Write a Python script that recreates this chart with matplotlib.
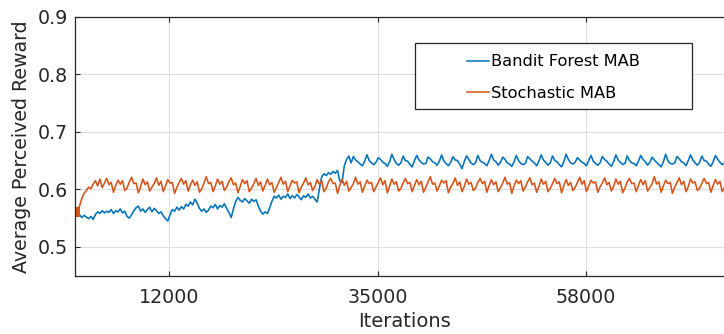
import numpy as np
import matplotlib
matplotlib.use("Agg")
import matplotlib.pyplot as plt
from matplotlib.lines import Line2D
from matplotlib.patches import Rectangle

# ---- data -------------------------------------------------------------
ITER_START = 1582        # first logged iteration
ITER_STEP = 250          # logging interval

stochastic_mab = [
    0.561, 0.562, 0.571, 0.584, 0.593, 0.598, 0.604, 0.601, 0.609, 0.615, 0.606, 0.618,
    0.603, 0.611, 0.619, 0.608, 0.612, 0.595,
    0.607, 0.616, 0.609, 0.615, 0.598,
    0.602, 0.613, 0.621, 0.610, 0.611, 0.594,
    0.605, 0.618, 0.608, 0.613, 0.597,
    0.604, 0.610, 0.620, 0.607, 0.614, 0.596,
    0.606, 0.617, 0.611, 0.612, 0.593,
    0.603, 0.612, 0.619, 0.609, 0.615, 0.597,
    0.608, 0.616, 0.607, 0.613, 0.595,
    0.601, 0.611, 0.622, 0.610, 0.612, 0.596,
    0.606, 0.618, 0.609, 0.614, 0.598,
    0.604, 0.613, 0.620, 0.608, 0.611, 0.594,
    0.605, 0.617, 0.610, 0.615, 0.596,
    0.602, 0.610, 0.619, 0.607, 0.613, 0.597,
    0.607, 0.618, 0.608, 0.612, 0.595,
    0.603, 0.612, 0.621, 0.609, 0.614, 0.596,
    0.606, 0.616, 0.611, 0.613, 0.594,
    0.604, 0.611, 0.620, 0.608, 0.612, 0.598,
    0.605, 0.617, 0.609, 0.615, 0.596,
    0.602, 0.613, 0.619, 0.610, 0.611, 0.593,
    0.607, 0.618, 0.607, 0.614, 0.597,
    0.603, 0.610, 0.621, 0.609, 0.613, 0.595,
    0.606, 0.616, 0.610, 0.612, 0.596,
    0.604, 0.612, 0.620, 0.608, 0.615, 0.594,
    0.605, 0.618, 0.609, 0.613, 0.597,
    0.602, 0.611, 0.619, 0.610, 0.612, 0.596,
    0.607, 0.617, 0.608, 0.614, 0.595,
    0.603, 0.613, 0.622, 0.609, 0.611, 0.597,
    0.606, 0.616, 0.611, 0.615, 0.594,
    0.604, 0.610, 0.620, 0.607, 0.613, 0.596,
    0.605, 0.618, 0.609, 0.612, 0.598,
    0.602, 0.612, 0.619, 0.610, 0.614, 0.595,
    0.607, 0.617, 0.608, 0.613, 0.596,
    0.603, 0.611, 0.621, 0.609, 0.612, 0.593,
    0.606, 0.616, 0.610, 0.615, 0.597,
    0.604, 0.613, 0.620, 0.608, 0.611, 0.595,
    0.605, 0.618, 0.609, 0.614, 0.596,
    0.602, 0.610, 0.619, 0.610, 0.613, 0.594,
    0.607, 0.617, 0.607, 0.612, 0.598,
    0.603, 0.612, 0.621, 0.609, 0.615, 0.596,
    0.606, 0.616, 0.611, 0.613, 0.595,
    0.604, 0.611, 0.620, 0.608, 0.612, 0.597,
    0.605, 0.618, 0.609, 0.614, 0.594,
    0.602, 0.613, 0.619, 0.610, 0.611, 0.596,
    0.607, 0.617, 0.608, 0.615, 0.597,
    0.603, 0.610, 0.622, 0.609, 0.613, 0.595,
    0.606, 0.616, 0.610, 0.612, 0.593,
    0.604, 0.612, 0.620, 0.608, 0.614, 0.596,
    0.605, 0.618, 0.611, 0.613, 0.598,
    0.602, 0.611, 0.619, 0.610, 0.612, 0.595,
    0.607, 0.617, 0.609, 0.614, 0.596,
    0.603, 0.613, 0.621, 0.608, 0.611, 0.594,
]

bandit_forest_mab = [
    0.558, 0.553, 0.556, 0.551, 0.555, 0.552, 0.549, 0.553, 0.548, 0.556, 0.561, 0.558,
    0.563, 0.559, 0.562, 0.560, 0.565, 0.558, 0.563, 0.561, 0.566, 0.559, 0.562,
    0.553, 0.550, 0.556,
    0.563, 0.568, 0.571, 0.562, 0.566, 0.560, 0.565, 0.569, 0.561, 0.567, 0.563, 0.558,
    0.561, 0.554, 0.549, 0.545,
    0.556, 0.565, 0.562, 0.569, 0.564, 0.570, 0.566,
    0.574, 0.571, 0.578, 0.573, 0.583, 0.576,
    0.567, 0.562, 0.566, 0.560, 0.564,
    0.571, 0.568, 0.574, 0.566, 0.572, 0.569, 0.575, 0.567,
    0.560, 0.551, 0.566,
    0.579, 0.586, 0.581, 0.578, 0.584, 0.580, 0.576, 0.583, 0.579, 0.582,
    0.571, 0.562, 0.557, 0.561, 0.558,
    0.568, 0.579, 0.588,
    0.585, 0.590, 0.583, 0.588, 0.586, 0.592, 0.584, 0.589, 0.585, 0.591, 0.587, 0.582,
    0.589, 0.586, 0.592, 0.585, 0.588, 0.583,
    0.578, 0.601,
    0.622, 0.627, 0.624, 0.629, 0.626, 0.631, 0.628, 0.633,
    0.615, 0.612,
    0.641, 0.652, 0.658,
    0.646, 0.657, 0.651, 0.648, 0.644, 0.641,
    0.649, 0.660, 0.650, 0.646, 0.643,
    0.647, 0.655, 0.652, 0.647, 0.645, 0.640,
    0.648, 0.661, 0.652, 0.645, 0.642,
    0.646, 0.658, 0.650, 0.649, 0.643, 0.639,
    0.650, 0.659, 0.651, 0.647, 0.644,
    0.645, 0.656, 0.653, 0.648, 0.646, 0.642,
    0.649, 0.660, 0.649, 0.645, 0.641,
    0.647, 0.657, 0.651, 0.650, 0.644, 0.636,
    0.648, 0.658, 0.652, 0.646, 0.643,
    0.646, 0.659, 0.650, 0.647, 0.645, 0.641,
    0.650, 0.661, 0.651, 0.648, 0.642,
    0.647, 0.656, 0.652, 0.646, 0.644, 0.640,
    0.648, 0.659, 0.650, 0.645, 0.643,
    0.645, 0.657, 0.653, 0.649, 0.646, 0.641,
    0.649, 0.660, 0.651, 0.647, 0.642,
    0.646, 0.658, 0.650, 0.648, 0.643, 0.639,
    0.648, 0.661, 0.652, 0.646, 0.644,
    0.647, 0.655, 0.651, 0.647, 0.645, 0.641,
    0.650, 0.659, 0.649, 0.645, 0.642,
    0.646, 0.657, 0.652, 0.649, 0.644, 0.640,
    0.648, 0.660, 0.651, 0.647, 0.643,
    0.645, 0.658, 0.650, 0.646, 0.645, 0.641,
    0.649, 0.659, 0.652, 0.648, 0.642,
    0.647, 0.656, 0.651, 0.647, 0.643, 0.639,
    0.648, 0.661, 0.650, 0.645, 0.644,
    0.646, 0.657, 0.653, 0.648, 0.646, 0.641,
    0.650, 0.660, 0.651, 0.646, 0.642,
    0.647, 0.658, 0.650, 0.649, 0.644, 0.640,
    0.648, 0.659, 0.652, 0.647, 0.643,
    0.646, 0.657, 0.651, 0.648, 0.645, 0.641,
]

series_labels = ["Bandit Forest MAB", "Stochastic MAB"]
x_ticks = [12000, 35000, 58000]
y_ticks = [0.5, 0.6, 0.7, 0.8, 0.9]

BLUE = "#0072BD"
ORANGE = "#D95319"
AX_COLOR = "#262626"

# ---- figure -----------------------------------------------------------
W, H = 724, 334
plt.rcParams["font.family"] = ["DejaVu Sans"]
fig = plt.figure(figsize=(W / 100, H / 100), dpi=100)


def fx(px):
    return px / W


def fy(py):
    return 1 - py / H


ax_left, ax_right, ax_top, ax_bottom = 75, 733, 16.7, 275.7
ax = fig.add_axes([fx(ax_left), fy(ax_bottom),
                   (ax_right - ax_left) / W, (ax_bottom - ax_top) / H])

it_forest = ITER_START + ITER_STEP * np.arange(len(bandit_forest_mab))
it_stoch = ITER_START + ITER_STEP * np.arange(len(stochastic_mab))

ax.plot(it_forest, bandit_forest_mab, color=BLUE, lw=1.15)
ax.plot(it_stoch, stochastic_mab, color=ORANGE, lw=1.15,
        marker="s", markevery=[0], markersize=6.5, markeredgewidth=0)

ax.set_xlim(ITER_START, 74270)
ax.set_ylim(0.45, 0.9)
ax.set_xticks(x_ticks)
ax.set_xticklabels([str(t) for t in x_ticks])
ax.set_yticks(y_ticks)
ax.set_yticklabels([f"{t:.1f}" for t in y_ticks])

ax.grid(True, color="#dedede", lw=0.8)
ax.set_axisbelow(True)
for s in ax.spines.values():
    s.set_color(AX_COLOR)
    s.set_linewidth(0.9)

ax.tick_params(axis="both", direction="in", length=3.6, width=0.8,
               color=AX_COLOR, labelcolor=AX_COLOR, labelsize=13.7,
               top=True, right=True)
ax.tick_params(axis="x", pad=8.6)
ax.tick_params(axis="y", pad=4.8)

ax.set_xlabel("Iterations", fontsize=14, color=AX_COLOR, labelpad=3.5)
ax.set_ylabel("Average Perceived Reward", fontsize=13.7, color=AX_COLOR,
              labelpad=4.7)

# ---- legend box ---------------------------------------------------------
fig.add_artist(Rectangle((fx(415), fy(109)), (692 - 415) / W, (109 - 43) / H,
                         transform=fig.transFigure, facecolor="white",
                         edgecolor=AX_COLOR, lw=0.9, zorder=5))
for label, color, ly, base in [(series_labels[0], BLUE, 60.5, 66),
                               (series_labels[1], ORANGE, 92, 98)]:
    fig.add_artist(Line2D([fx(467), fx(489)], [fy(ly), fy(ly)],
                          transform=fig.transFigure, color=color, lw=1.1,
                          zorder=6))
    fig.text(fx(491), fy(base), label, fontsize=11.7, color="black",
             va="baseline", ha="left", zorder=6)

fig.savefig("out.png", dpi=100)
